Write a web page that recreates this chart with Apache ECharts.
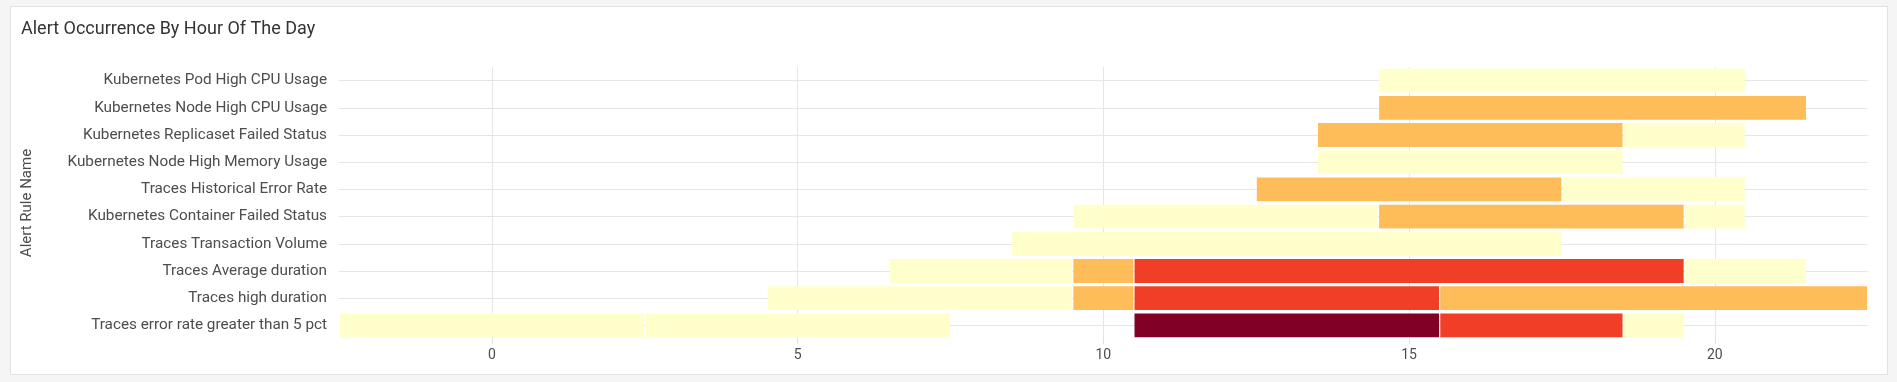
<!DOCTYPE html>
<html>
<head>
<meta charset="utf-8">
<script src="https://cdn.jsdelivr.net/npm/echarts@6/dist/echarts.min.js"></script>
<style>
  html, body { margin: 0; padding: 0; background: #f5f5f5; width: 1897px; height: 382px; overflow: hidden; }
  #panel { position: absolute; left: 10px; top: 6px; width: 1876px; height: 367px; background: #fff; border: 1px solid #e2e2e2; }
  #chart { position: absolute; left: 0; top: 0; width: 1897px; height: 382px; }
</style>
</head>
<body>
<div id="panel"></div>
<div id="chart"></div>
<script>
// Alert rules, top to bottom
const ruleNames = [
  'Kubernetes Pod High CPU Usage',
  'Kubernetes Node High CPU Usage',
  'Kubernetes Replicaset Failed Status',
  'Kubernetes Node High Memory Usage',
  'Traces Historical Error Rate',
  'Kubernetes Container Failed Status',
  'Traces Transaction Volume',
  'Traces Average duration',
  'Traces high duration',
  'Traces error rate greater than 5 pct'
];

// Hour ticks shown on the x axis
const hourTicks = [0, 5, 10, 15, 20];

// Occurrence segments (parallel arrays): rule index, start hour, end hour, occurrence level
const segRule  = [0,    1,    2,    2,    3,    4,    4,    5,   5,    5,    6,   7,   7,   7,    7,    8,   8,   8,    8,    9,    9,   9,    9,    9];
const segStart = [14.5, 14.5, 13.5, 18.5, 13.5, 12.5, 17.5, 9.5, 14.5, 19.5, 8.5, 6.5, 9.5, 10.5, 19.5, 4.5, 9.5, 10.5, 15.5, -2.5, 2.5, 10.5, 15.5, 18.5];
const segEnd   = [20.5, 21.5, 18.5, 20.5, 18.5, 17.5, 20.5, 14.5, 19.5, 20.5, 17.5, 9.5, 10.5, 19.5, 21.5, 9.5, 10.5, 15.5, 22.5, 2.5, 7.5, 15.5, 18.5, 19.5];
const segLevel = [1,    2,    2,    1,    1,    2,    1,    1,   2,    1,    1,   1,   2,   3,    1,    1,   2,   3,    2,    1,    1,   4,    3,    1];

const levelColors = ['#ffffcc', '#febd59', '#f03f26', '#800026'];

const data = segRule.map((r, i) => [segStart[i], segEnd[i], r, segLevel[i]]);

const chart = echarts.init(document.getElementById('chart'), null, { renderer: 'canvas' });

const FONT = 'Roboto, "Noto Sans", sans-serif';

chart.setOption({
  backgroundColor: 'transparent',
  animation: false,
  title: {
    text: 'Alert Occurrence By Hour Of The Day',
    left: 16,
    top: 15,
    textStyle: { fontFamily: FONT, fontSize: 18, fontWeight: 'normal', color: '#333' }
  },
  grid: { left: 339, right: 29.3, top: 67, bottom: 43 },
  xAxis: {
    type: 'value',
    min: -2.5,
    max: 22.5,
    axisLine: { show: false },
    axisTick: { show: true, length: 5, customValues: hourTicks, lineStyle: { color: '#e0e0e0' } },
    axisLabel: { customValues: hourTicks, fontFamily: FONT, fontSize: 14, color: '#4d4d4d', margin: 9 },
    splitLine: { show: true, lineStyle: { color: '#e6e6e6' } }
  },
  yAxis: {
    type: 'category',
    data: ruleNames,
    inverse: true,
    name: 'Alert Rule Name',
    nameLocation: 'middle',
    nameGap: 304,
    nameTextStyle: { fontFamily: FONT, fontSize: 15, color: '#4d4d4d' },
    axisLine: { show: false },
    axisTick: { show: true, alignWithLabel: true, length: 5, lineStyle: { color: '#e0e0e0' } },
    axisLabel: { fontFamily: FONT, fontSize: 15.3, color: '#4d4d4d', margin: 12 },
    splitLine: { show: true, alignWithLabel: true, lineStyle: { color: '#e6e6e6' } }
  },
  series: [{
    type: 'custom',
    encode: { x: [0, 1], y: 2 },
    data: data,
    renderItem: function (params, api) {
      const s = api.value(0), e = api.value(1), r = api.value(2), lv = api.value(3);
      const p0 = api.coord([s, r]);
      const p1 = api.coord([e, r]);
      const band = api.size([0, 1])[1];
      const h = band - 3.4;
      const gx = 0.6;
      return {
        type: 'rect',
        shape: { x: p0[0] + gx, y: p0[1] - h / 2, width: p1[0] - p0[0] - 2 * gx, height: h },
        style: { fill: levelColors[lv - 1] }
      };
    }
  }]
});
</script>
</body>
</html>
